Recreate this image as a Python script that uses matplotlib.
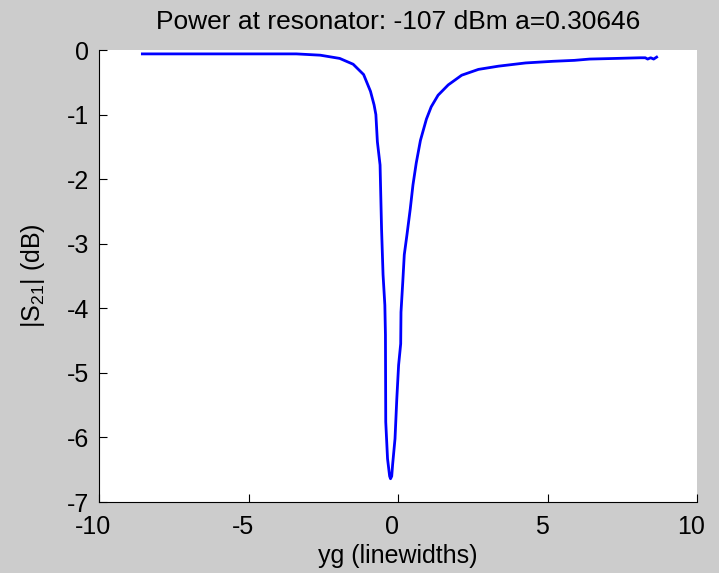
import matplotlib
matplotlib.use("Agg")
import matplotlib.pyplot as plt
from matplotlib.transforms import ScaledTranslation

# |S21| trace (linewidths, dB)
yg = [-8.55, -7.0, -5.5, -4.2, -3.4, -2.6, -1.95, -1.5, -1.15, -0.92,
      -0.80, -0.74, -0.69, -0.60, -0.55, -0.50, -0.44, -0.42, -0.41, -0.35,
      -0.28, -0.25, -0.21, -0.18, -0.10, -0.04, 0.02, 0.09, 0.10, 0.16,
      0.21, 0.30, 0.41, 0.50, 0.61, 0.75, 0.95, 1.11, 1.34, 1.68,
      2.13, 2.69, 3.36, 4.27, 5.17, 5.9, 6.41, 7.3, 8.1, 8.27,
      8.35, 8.45, 8.55, 8.65]
s21 = [-0.06, -0.06, -0.06, -0.06, -0.06, -0.08, -0.13, -0.22, -0.38, -0.64,
       -0.85, -1.0, -1.42, -1.78, -2.77, -3.48, -3.95, -4.41, -5.76, -6.33,
       -6.6, -6.64, -6.6, -6.42, -6.02, -5.40, -4.88, -4.55, -4.06, -3.59,
       -3.17, -2.86, -2.46, -2.09, -1.75, -1.40, -1.07, -0.88, -0.70, -0.54,
       -0.39, -0.30, -0.25, -0.20, -0.175, -0.16, -0.14, -0.13, -0.12, -0.12,
       -0.14, -0.12, -0.14, -0.11]

xticks = [-10, -5, 0, 5, 10]
yticks = [0, -1, -2, -3, -4, -5, -6, -7]

plt.rcParams['font.family'] = ['Liberation Sans', 'DejaVu Sans']
plt.rcParams['mathtext.default'] = 'regular'
plt.rcParams['axes.unicode_minus'] = False

fig = plt.figure(figsize=(7.19, 5.73), dpi=100, facecolor='#cccccc')
ax = fig.add_axes([0.1377, 0.1239, 0.8317, 0.7888])
ax.plot(yg, s21, color='#0000ff', lw=2)

ax.set_xlim(-10, 10)
ax.set_ylim(-7, 0)
ax.set_xticks(xticks)
ax.set_yticks(yticks)
ax.tick_params(direction='in', length=6, labelsize=18)
ax.tick_params(axis='x', pad=9)
ax.tick_params(axis='y', pad=7)
for side in ['top', 'right']:
    ax.spines[side].set_visible(False)

# matlab puts the x tick labels a little left of the ticks
shift = ScaledTranslation(-4 / 72, 0, fig.dpi_scale_trans)
for lbl in ax.get_xticklabels():
    lbl.set_transform(lbl.get_transform() + shift)

ax.set_xlabel("yg (linewidths)", fontsize=18, labelpad=4)
ax.set_ylabel("$|S_{21}|$ (dB)", fontsize=18, labelpad=14)
ax.set_title("Power at resonator: -107 dBm a=0.30646", fontsize=19, pad=15)

fig.savefig("out.png", dpi=100, facecolor=fig.get_facecolor())
